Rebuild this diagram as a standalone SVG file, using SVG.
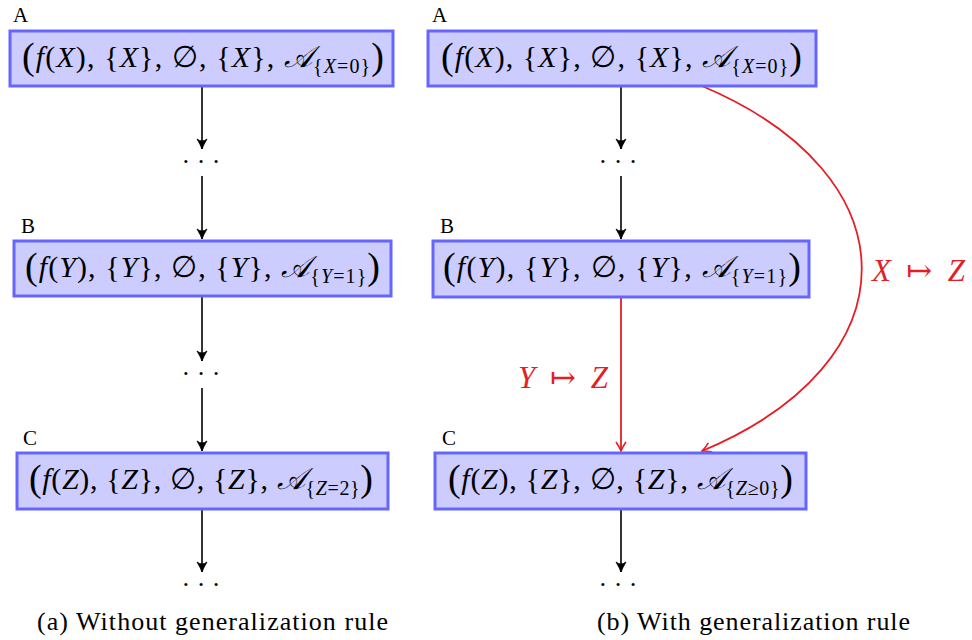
<svg xmlns="http://www.w3.org/2000/svg" width="972" height="640" viewBox="0 0 972 640">
<defs>
<style>
.box{fill:#ccccff;stroke:#6666ff;stroke-width:3}
.m{font-family:"Liberation Serif","DejaVu Serif",serif;font-size:30px;fill:#000}
.i{font-style:italic}
.sub{font-size:20px}
.big{font-size:38px}
.lbl{font-family:"Liberation Serif","DejaVu Serif",serif;font-size:21px;fill:#000}
.dots{font-family:"Liberation Serif","DejaVu Serif",serif;font-size:26px;fill:#000;text-anchor:middle}
.cap{font-family:"Liberation Serif","DejaVu Serif",serif;font-size:26px;fill:#000}
.red{font-family:"Liberation Serif","DejaVu Serif",serif;font-size:31px;fill:#e41e26}
.blk{stroke:#000;stroke-width:1.6;fill:none}
.rl{stroke:#e41e26;stroke-width:1.8;fill:none}
</style>
<marker id="ab" viewBox="-11 -6 12 12" refX="0" refY="0" markerWidth="12" markerHeight="12" markerUnits="userSpaceOnUse" orient="auto">
<path d="M-10,-5 Q-4,-1.5 0,0 Q-4,1.5 -10,5 Q-6,0 -10,-5 Z" fill="#000" stroke="#000" stroke-width="0.8"/>
</marker>
<marker id="ar" viewBox="-11 -6 12 12" refX="0" refY="0" markerWidth="12" markerHeight="12" markerUnits="userSpaceOnUse" orient="auto">
<path d="M-9,-5 Q-4,-1.5 0,0 Q-4,1.5 -9,5" fill="none" stroke="#e41e26" stroke-width="1.6"/>
</marker>
</defs>

<g id="connectors">
<line class="blk" x1="202" y1="86" x2="202" y2="149" marker-end="url(#ab)"/>
<line class="blk" x1="202" y1="176" x2="202" y2="239" marker-end="url(#ab)"/>
<line class="blk" x1="202" y1="297" x2="202" y2="361" marker-end="url(#ab)"/>
<line class="blk" x1="202" y1="388" x2="202" y2="451" marker-end="url(#ab)"/>
<line class="blk" x1="202" y1="510" x2="202" y2="572" marker-end="url(#ab)"/>
<line class="blk" x1="621" y1="86" x2="621" y2="149" marker-end="url(#ab)"/>
<line class="blk" x1="621" y1="176" x2="621" y2="239" marker-end="url(#ab)"/>
<line class="blk" x1="621" y1="510" x2="621" y2="572" marker-end="url(#ab)"/>
<line class="rl" x1="621" y1="298" x2="621" y2="451" marker-end="url(#ar)"/>
<path class="rl" d="M702,86 C915,176 915,362 702,451" marker-end="url(#ar)"/>
<text class="red" x="518" y="388" textLength="90" lengthAdjust="spacing"><tspan class="i">Y</tspan> ↦ <tspan class="i">Z</tspan></text>
<text class="red" x="872" y="281" textLength="93" lengthAdjust="spacing"><tspan class="i">X</tspan> ↦ <tspan class="i">Z</tspan></text>
</g>

<g id="dots">
<text class="dots" x="201" y="170">· · ·</text>
<text class="dots" x="201" y="382">· · ·</text>
<text class="dots" x="201" y="593">· · ·</text>
<text class="dots" x="618" y="170">· · ·</text>
<text class="dots" x="618" y="593">· · ·</text>
</g>

<g id="nodeA1">
<text class="lbl" x="13" y="22">A</text>
<rect class="box" x="10" y="31" width="383" height="55"/>
<text class="m" x="22" y="67" textLength="362" lengthAdjust="spacing"><tspan class="big" dy="2">(</tspan><tspan class="i" dy="-2">f</tspan>(<tspan class="i">X</tspan>), {<tspan class="i">X</tspan>}, ∅, {<tspan class="i">X</tspan>}, <tspan class="i">𝒜</tspan><tspan class="sub" dy="6">{<tspan class="i">X</tspan>=0}</tspan><tspan class="big" dy="-4">)</tspan></text>
</g>
<g id="nodeB1">
<text class="lbl" x="21" y="233">B</text>
<rect class="box" x="14" y="241" width="377" height="55"/>
<text class="m" x="25" y="277" textLength="355" lengthAdjust="spacing"><tspan class="big" dy="2">(</tspan><tspan class="i" dy="-2">f</tspan>(<tspan class="i">Y</tspan>), {<tspan class="i">Y</tspan>}, ∅, {<tspan class="i">Y</tspan>}, <tspan class="i">𝒜</tspan><tspan class="sub" dy="6">{<tspan class="i">Y</tspan>=1}</tspan><tspan class="big" dy="-4">)</tspan></text>
</g>
<g id="nodeC1">
<text class="lbl" x="23" y="445">C</text>
<rect class="box" x="17" y="453" width="371" height="56"/>
<text class="m" x="29" y="489" textLength="344" lengthAdjust="spacing"><tspan class="big" dy="2">(</tspan><tspan class="i" dy="-2">f</tspan>(<tspan class="i">Z</tspan>), {<tspan class="i">Z</tspan>}, ∅, {<tspan class="i">Z</tspan>}, <tspan class="i">𝒜</tspan><tspan class="sub" dy="6">{<tspan class="i">Z</tspan>=2}</tspan><tspan class="big" dy="-4">)</tspan></text>
</g>

<g id="nodeA2">
<text class="lbl" x="432" y="22">A</text>
<rect class="box" x="428" y="31" width="388" height="55"/>
<text class="m" x="441" y="67" textLength="361" lengthAdjust="spacing"><tspan class="big" dy="2">(</tspan><tspan class="i" dy="-2">f</tspan>(<tspan class="i">X</tspan>), {<tspan class="i">X</tspan>}, ∅, {<tspan class="i">X</tspan>}, <tspan class="i">𝒜</tspan><tspan class="sub" dy="6">{<tspan class="i">X</tspan>=0}</tspan><tspan class="big" dy="-4">)</tspan></text>
</g>
<g id="nodeB2">
<text class="lbl" x="440" y="233">B</text>
<rect class="box" x="433" y="241" width="376" height="56"/>
<text class="m" x="443" y="277" textLength="358" lengthAdjust="spacing"><tspan class="big" dy="2">(</tspan><tspan class="i" dy="-2">f</tspan>(<tspan class="i">Y</tspan>), {<tspan class="i">Y</tspan>}, ∅, {<tspan class="i">Y</tspan>}, <tspan class="i">𝒜</tspan><tspan class="sub" dy="6">{<tspan class="i">Y</tspan>=1}</tspan><tspan class="big" dy="-4">)</tspan></text>
</g>
<g id="nodeC2">
<text class="lbl" x="442" y="445">C</text>
<rect class="box" x="435" y="453" width="371" height="56"/>
<text class="m" x="448" y="489" textLength="345" lengthAdjust="spacing"><tspan class="big" dy="2">(</tspan><tspan class="i" dy="-2">f</tspan>(<tspan class="i">Z</tspan>), {<tspan class="i">Z</tspan>}, ∅, {<tspan class="i">Z</tspan>}, <tspan class="i">𝒜</tspan><tspan class="sub" dy="6">{<tspan class="i">Z</tspan>≥0}</tspan><tspan class="big" dy="-4">)</tspan></text>
</g>

<g id="captions">
<text class="cap" x="37" y="630" textLength="351" lengthAdjust="spacing">(a) Without generalization rule</text>
<text class="cap" x="597" y="630" textLength="313" lengthAdjust="spacing">(b) With generalization rule</text>
</g>
</svg>
